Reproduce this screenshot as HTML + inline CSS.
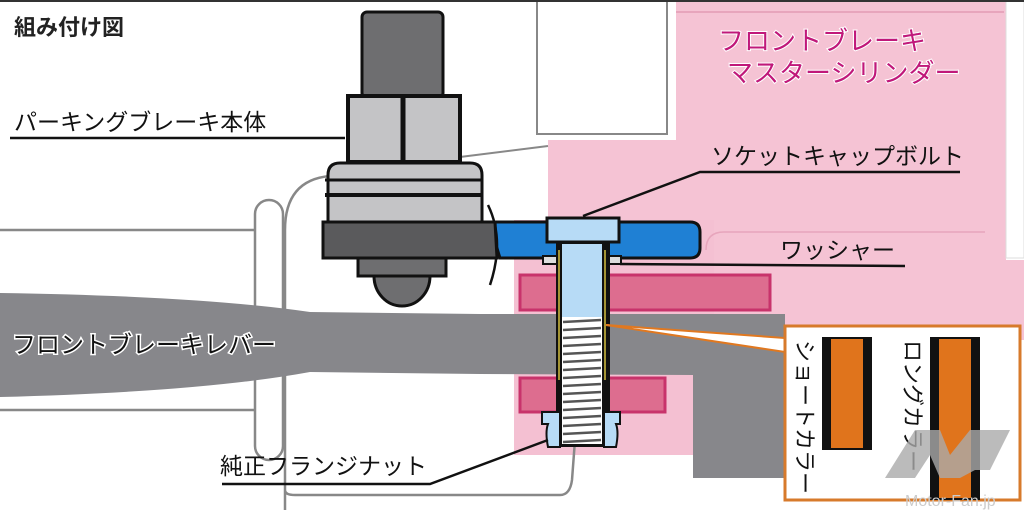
<!DOCTYPE html>
<html><head><meta charset="utf-8"><style>
html,body{margin:0;padding:0;background:#fff;width:1024px;height:512px;overflow:hidden}
svg text{font-family:"Liberation Sans","Noto Sans CJK JP",sans-serif}
</style></head><body>
<svg width="1024" height="512" viewBox="0 0 1024 512" xmlns="http://www.w3.org/2000/svg">
<rect width="1024" height="512" fill="#fff"/>
<!-- pink master cylinder -->
<rect x="676" y="0" width="330" height="445" fill="#f5c3d4"/>
<rect x="548" y="140" width="200" height="305" fill="#f5c3d4"/>
<rect x="514" y="220" width="200" height="235" fill="#f4c0d2"/>
<rect x="980" y="260" width="44" height="80" fill="#f5c3d4"/>
<rect x="1006" y="0" width="18" height="258" fill="#fff" stroke="#ddd"/>
<line x1="676" y1="12" x2="1004" y2="12" stroke="#e7a5bc" stroke-width="2"/>
<path d="M706 250 Q706 232 724 232 L985 232" fill="none" stroke="#e7a5bc" stroke-width="1.5"/>
<rect x="537" y="0" width="130" height="134" fill="#fff" stroke="#888" stroke-width="2"/>
<line x1="0" y1="1" x2="1024" y2="1" stroke="#333" stroke-width="2"/>
<line x1="460" y1="157" x2="548" y2="146" stroke="#888" stroke-width="2"/>
<!-- left white bracket outlines -->
<path d="M0 230 L255 230 M0 410 L255 410" stroke="#888" stroke-width="2.5" fill="none"/>
<rect x="255" y="200" width="28" height="260" rx="14" fill="#fff" stroke="#888" stroke-width="2.5"/>
<path d="M285 510 L285 230 Q285 180 330 176 M285 490 Q285 495 295 495 L560 495 Q570 495 572 480 L575 440" fill="none" stroke="#888" stroke-width="2.5"/>
<!-- lever -->
<path d="M0 293 Q200 296 310 312 L480 314 L785 314 L785 478 L693 478 L693 375 L480 374 L310 372 Q200 392 0 397 Z" fill="#87878b"/>
<text x="12" y="353" font-size="24" fill="#111" stroke="#fff" stroke-width="3" paint-order="stroke">フロントブレーキレバー</text>
<!-- pink collars -->
<rect x="520" y="275" width="250" height="35" fill="#dd6d8f" stroke="#c8336b" stroke-width="3"/>
<rect x="520" y="378" width="145" height="34" fill="#dd6d8f" stroke="#c8336b" stroke-width="3"/>
<!-- blue arm -->
<path d="M490 222 L690 222 Q700 222 700 232 L700 248 Q700 258 690 258 L500 258 Q494 240 490 222 Z" fill="#1f80d4" stroke="#111" stroke-width="3"/>
<path d="M488 205 Q505 240 490 285" fill="none" stroke="#111" stroke-width="2.5"/>
<!-- washer -->
<rect x="543" y="256" width="78" height="8" fill="#ddd" stroke="#111" stroke-width="2"/>
<!-- bolt -->
<rect x="547" y="218" width="72" height="24" fill="#b7dbf6" stroke="#111" stroke-width="3"/>
<rect x="556" y="242" width="54" height="205" fill="#111"/>
<rect x="562" y="244" width="40" height="200" fill="#b7dbf6"/>
<line x1="559" y1="250" x2="559" y2="380" stroke="#d6c040" stroke-width="1.5"/>
<line x1="605" y1="250" x2="605" y2="380" stroke="#d6c040" stroke-width="1.5"/>
<rect x="562" y="317" width="40" height="127" fill="#fff"/>
<g stroke="#555" stroke-width="2.5">
<line x1="563" y1="322" x2="601" y2="320"/><line x1="563" y1="330" x2="601" y2="328"/><line x1="563" y1="338" x2="601" y2="336"/><line x1="563" y1="346" x2="601" y2="344"/><line x1="563" y1="354" x2="601" y2="352"/><line x1="563" y1="362" x2="601" y2="360"/><line x1="563" y1="370" x2="601" y2="368"/><line x1="563" y1="378" x2="601" y2="376"/><line x1="563" y1="386" x2="601" y2="384"/><line x1="563" y1="394" x2="601" y2="392"/><line x1="563" y1="402" x2="601" y2="400"/><line x1="563" y1="410" x2="601" y2="408"/><line x1="563" y1="418" x2="601" y2="416"/><line x1="563" y1="426" x2="601" y2="424"/><line x1="563" y1="434" x2="601" y2="432"/><line x1="563" y1="442" x2="601" y2="440"/>
</g>
<!-- flange nut -->
<path d="M542 412 L560 412 L560 447 L548 447 Q545 432 548 424 L542 424 Z M620 412 L604 412 L604 447 L616 447 Q619 432 616 424 L620 424 Z" fill="#b7dbf6" stroke="#111" stroke-width="2"/>
<!-- parking brake body -->
<rect x="362" y="12" width="81" height="86" rx="5" fill="#6e6e70" stroke="#111" stroke-width="3"/>
<rect x="348" y="96" width="112" height="66" fill="#c4c4c6" stroke="#111" stroke-width="4"/>
<line x1="403" y1="98" x2="403" y2="160" stroke="#111" stroke-width="5"/>
<path d="M328 175 Q328 163 340 163 L470 163 Q482 163 482 175 L482 222 L328 222 Z" fill="#c4c4c6" stroke="#111" stroke-width="3"/>
<line x1="325" y1="180" x2="483" y2="180" stroke="#111" stroke-width="3"/>
<line x1="325" y1="195" x2="483" y2="195" stroke="#111" stroke-width="4"/>
<path d="M323 222 L495 222 L497 258 L323 258 Z" fill="#5a5a5c" stroke="#111" stroke-width="3"/>
<rect x="358" y="258" width="88" height="18" fill="#6e6e70" stroke="#111" stroke-width="3"/>
<path d="M374 276 A28 30 0 0 0 430 276 Z" fill="#6e6e70" stroke="#111" stroke-width="3"/>
<!-- leader lines -->
<g stroke="#111" stroke-width="2.5" fill="none">
<path d="M10 138 L345 138"/>
<path d="M583 216 L700 172 L960 172"/>
<path d="M620 264 L905 266"/>
<path d="M222 484 L430 484 L548 440"/>
</g>
<!-- orange callout -->
<polygon points="606,325 785,338 785,352" fill="#fff" stroke="#e07820" stroke-width="2"/>
<rect x="785" y="326" width="235" height="174" fill="#fff" stroke="#d77a2b" stroke-width="3"/>
<rect x="822" y="337" width="50" height="113" fill="#111"/>
<rect x="831" y="339" width="32" height="109" fill="#e0741c"/>
<rect x="930" y="337" width="50" height="163" fill="#111"/>
<rect x="939" y="339" width="32" height="159" fill="#e0741c"/>
<text x="0" y="0" font-size="22" fill="#111" transform="translate(797,340) rotate(90)">ショートカラー</text>
<text x="0" y="0" font-size="22" fill="#111" transform="translate(905,340) rotate(90)">ロングカラー</text>
<path d="M885 478 L915 430 L940 430 L950 455 L970 430 L1010 430 L990 470 L975 470 L960 478 L940 478 L930 455 L915 478 Z" fill="#aaa" opacity="0.8"/>
<text x="905" y="506" font-size="16" fill="#ccc">Motor-Fan.jp</text>
<!-- labels -->
<text x="14" y="35" font-size="22" fill="#222" font-weight="bold">組み付け図</text>
<text x="14" y="130" font-size="23" fill="#111">パーキングブレーキ本体</text>
<text x="718" y="50" font-size="26" fill="#c0187a" stroke="#fff" stroke-width="2" paint-order="stroke">フロントブレーキ</text>
<text x="727" y="82" font-size="26" fill="#c0187a" stroke="#fff" stroke-width="2" paint-order="stroke">マスターシリンダー</text>
<text x="711" y="164" font-size="23" fill="#111">ソケットキャップボルト</text>
<text x="780" y="258" font-size="23" fill="#111">ワッシャー</text>
<text x="220" y="474" font-size="23" fill="#111">純正フランジナット</text>
</svg>
</body></html>
